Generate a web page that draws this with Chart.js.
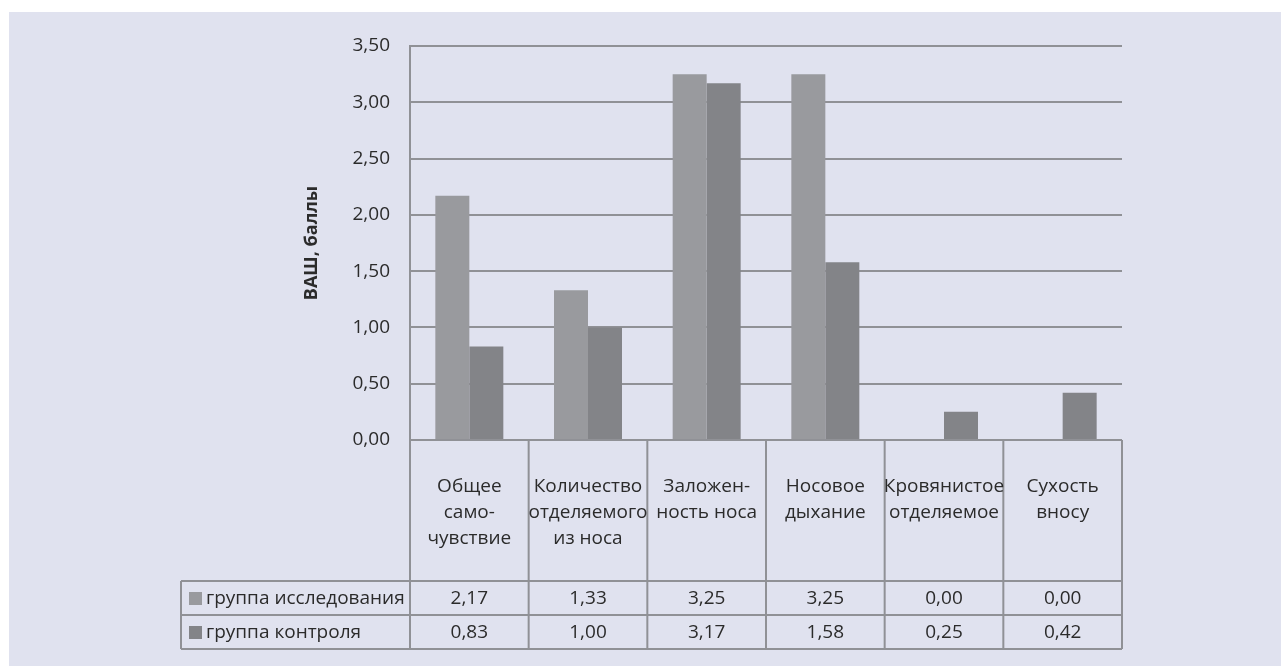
<!DOCTYPE html>
<html>
<head>
<meta charset="utf-8">
<script src="https://cdn.jsdelivr.net/npm/chart.js@4/dist/chart.umd.min.js"></script>
<style>
  body { margin: 0; background: #ffffff; }
  canvas { display: block; }
</style>
</head>
<body>
<canvas id="vas-chart" width="1281" height="666"></canvas>
<script>
// data ======================================
const categories = [
  ["Общее", "само-", "чувствие"],
  ["Количество", "отделяемого", "из носа"],
  ["Заложен-", "ность носа"],
  ["Носовое", "дыхание"],
  ["Кровянистое", "отделяемое"],
  ["Сухость", "вносу"]
];
const seriesNames = ["группа исследования", "группа контроля"];
const studyValues = [2.17, 1.33, 3.25, 3.25, 0.0, 0.0];
const controlValues = [0.83, 1.0, 3.17, 1.58, 0.25, 0.42];
const yMin = 0;
const yMax = 3.5;
const yStep = 0.5;
const yTitle = "ВАШ, баллы";

const seriesColors = ["#999a9e", "#838488"];
const lineColor = "#909196";
const textColor = "#2b2b2b";
const fontFamily = "'Open Sans', sans-serif";

function fmt(v) {
  return v.toFixed(2).replace(".", ",");
}

// background panel
const panelBackground = {
  id: "panelBackground",
  beforeDraw(chart) {
    const { ctx, width, height } = chart;
    ctx.save();
    ctx.fillStyle = "#ffffff";
    ctx.fillRect(0, 0, width, height);
    ctx.fillStyle = "#e0e2ef";
    ctx.fillRect(9, 12, width - 9, height - 12);
    ctx.restore();
  }
};

// data table under the plot
const dataTable = {
  id: "dataTable",
  afterDraw(chart) {
    const { ctx, chartArea } = chart;
    const x = chart.scales.x;
    const n = categories.length;
    const cw = (x.right - x.left) / n;
    const top = chartArea.bottom;
    const labelRowH = 141;
    const rowH = 34;
    const r1 = top + labelRowH;
    const r2 = r1 + rowH;
    const r3 = r2 + rowH;
    const legendLeft = 181;

    ctx.save();
    ctx.strokeStyle = lineColor;
    ctx.lineWidth = 2;
    ctx.beginPath();
    // horizontal lines
    [r1, r2, r3].forEach((y) => {
      ctx.moveTo(legendLeft, y);
      ctx.lineTo(x.right, y);
    });
    // legend column left edge
    ctx.moveTo(legendLeft, r1);
    ctx.lineTo(legendLeft, r3);
    // category boundaries
    for (let i = 0; i <= n; i++) {
      const bx = x.left + i * cw;
      ctx.moveTo(bx, i === 0 ? chartArea.top : top);
      ctx.lineTo(bx, r3);
    }
    ctx.stroke();

    // category labels
    ctx.fillStyle = textColor;
    ctx.font = "19px " + fontFamily;
    ctx.textAlign = "center";
    ctx.textBaseline = "middle";
    categories.forEach((lines, i) => {
      const cx = x.getPixelForValue(i);
      lines.forEach((line, j) => {
        ctx.fillText(line, cx, top + 47 + j * 26);
      });
    });

    // values
    const rows = [studyValues, controlValues];
    rows.forEach((vals, k) => {
      const cy = r1 + rowH * k + rowH / 2 + 1;
      vals.forEach((v, i) => {
        ctx.fillText(fmt(v), x.getPixelForValue(i), cy);
      });
    });

    // legend keys
    ctx.textAlign = "left";
    seriesNames.forEach((name, k) => {
      const cy = r1 + rowH * k + rowH / 2;
      ctx.fillStyle = seriesColors[k];
      ctx.fillRect(189, cy - 6, 13, 13);
      ctx.fillStyle = textColor;
      ctx.fillText(name, 206, cy + 1);
    });
    ctx.restore();
  }
};

// config
const vasConfig = {
  type: "bar",
  data: {
    labels: categories,
    datasets: [
      {
        label: seriesNames[0],
        data: studyValues,
        backgroundColor: seriesColors[0],
        categoryPercentage: 0.573,
        barPercentage: 1.0
      },
      {
        label: seriesNames[1],
        data: controlValues,
        backgroundColor: seriesColors[1],
        categoryPercentage: 0.573,
        barPercentage: 1.0
      }
    ]
  },
  options: {
    responsive: false,
    animation: false,
    layout: {
      padding: { left: 290, right: 159, top: 46, bottom: 0 }
    },
    plugins: {
      legend: { display: false },
      tooltip: { enabled: false }
    },
    scales: {
      x: {
        grid: { display: false },
        border: { display: false },
        ticks: { display: false },
        afterFit(scale) {
          scale.height = 226;
        }
      },
      y: {
        min: yMin,
        max: yMax,
        border: { display: true, color: lineColor, width: 2 },
        grid: { color: lineColor, lineWidth: 2, drawTicks: false },
        ticks: {
          stepSize: yStep,
          padding: 20,
          color: textColor,
          font: { family: fontFamily, size: 19 },
          callback: (v) => fmt(v)
        },
        title: {
          display: true,
          text: yTitle,
          color: textColor,
          padding: { top: 11, bottom: 0 },
          font: { family: fontFamily, size: 18, weight: "bold" }
        },
        afterFit(scale) {
          scale.width = 120;
        }
      }
    }
  },
  plugins: [panelBackground, dataTable]
};

const vasChart = new Chart(document.getElementById("vas-chart"), vasConfig);
</script>
</body>
</html>
